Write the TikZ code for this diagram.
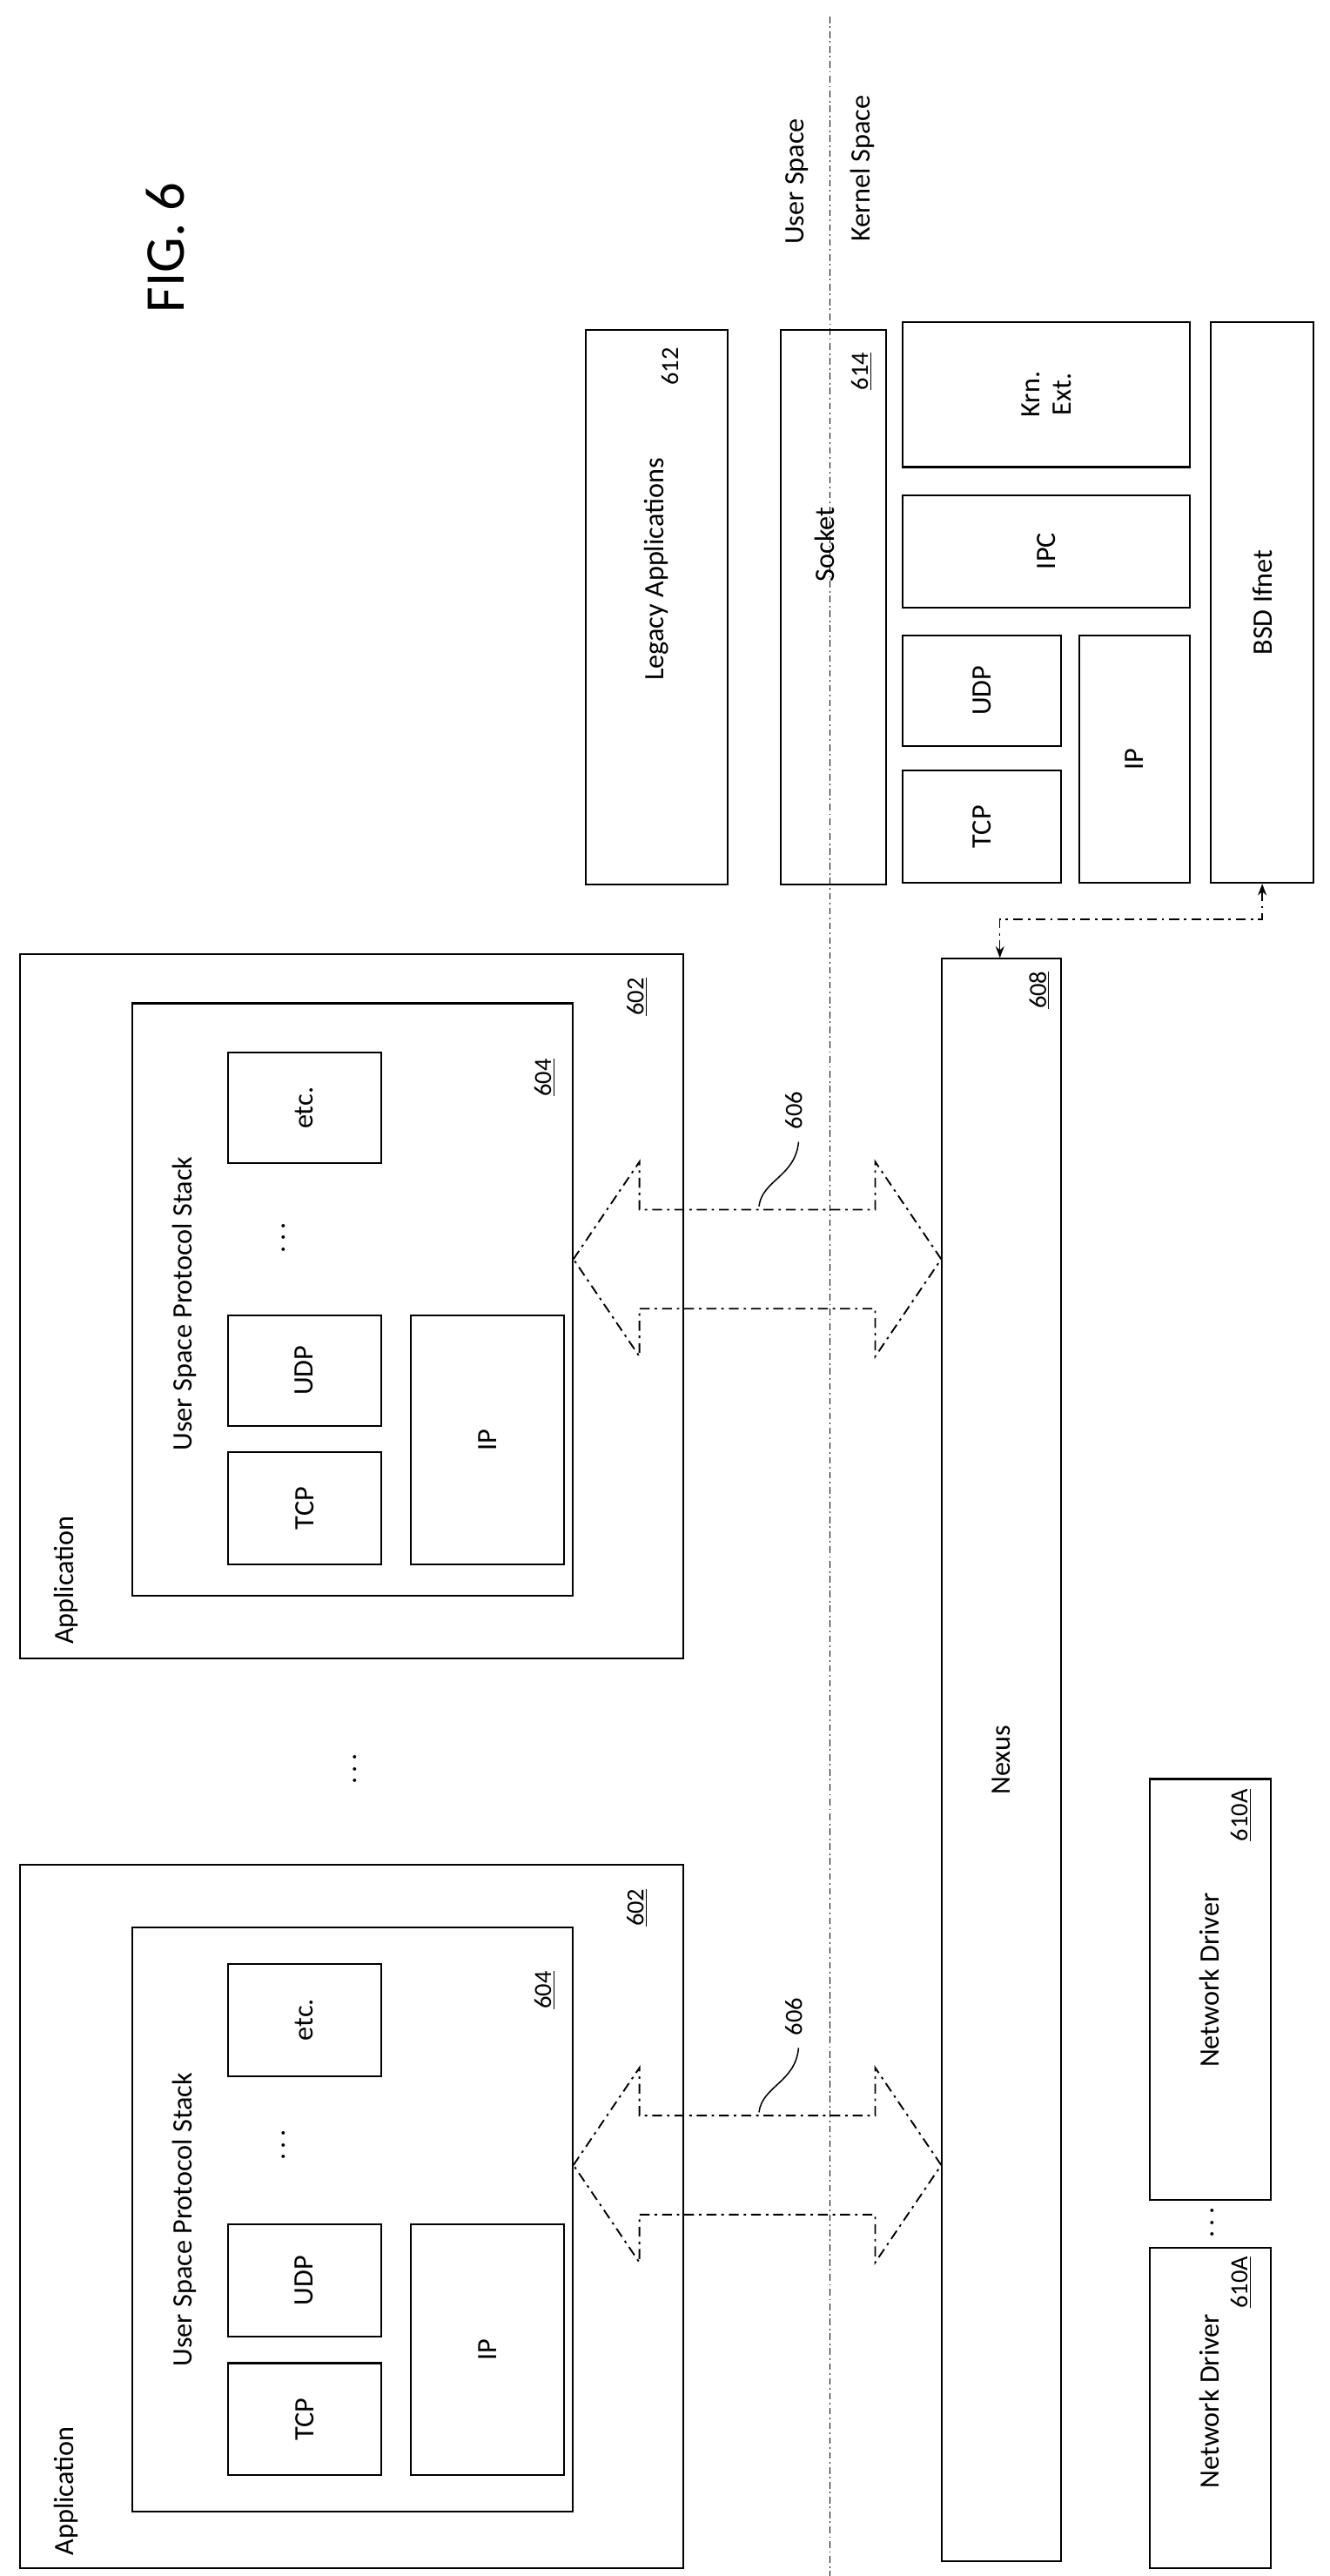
\documentclass[tikz,border=0pt]{standalone}
\usepackage{fontspec}
\setmainfont{Carlito}
\usetikzlibrary{positioning,calc,arrows.meta}

\tikzset{
  box/.style={draw,line width=1.1pt,rectangle,inner sep=0pt},
  lbl/.style={rotate=90,font=\fontsize{17}{19}\selectfont,align=center},
  ref/.style={rotate=90,font=\fontsize{15}{17}\selectfont},
  flow/.style={line width=1pt,dash pattern=on 6pt off 3pt on 1.5pt off 3pt},
}
\newcommand{\boxat}[5]{% name, x1, y1, x2, y2
  \node[box,minimum width={#4-#2},minimum height={#5-#3}] (#1) at ({(#2+#4)/2},{(#3+#5)/2}) {};}
\newcommand{\refnum}[3]{\node[ref] at (#1,#2) {\underline{#3}};}

\begin{document}
\begin{tikzpicture}[x=1pt,y=-1pt]
\useasboundingbox (0,0) rectangle (806,1561);

%FIG label
\node[rotate=90,font=\fontsize{34}{38}\selectfont] (fig) at (100,150) {FIG. 6};

%user / kernel boundary
\draw[line width=0.8pt,dash pattern=on 4pt off 2pt on 1pt off 2pt] (503,10) coordinate (bt) -- (503,1561) coordinate (bb);
\node[lbl] (us) at (483,110) {User Space};
\node[lbl] (ks) at (523,102) {Kernel Space};

%Application (top)
\boxat{appA}{12}{578}{414}{1005}
\node[lbl,anchor=west] at (40,1000) {Application};
\refnum{386}{604}{602}
\boxat{stackA}{80}{608}{347}{967}
\node[lbl] at (112,790) {User Space Protocol Stack};
\refnum{330}{653}{604}
\boxat{tcpA}{138}{880}{231}{948}
\node[lbl] at (tcpA) {TCP};
\boxat{udpA}{138}{797}{231}{864}
\node[lbl] at (udpA) {UDP};
\node[lbl] at (172,750) {.\,.\,.};
\boxat{etcA}{138}{638}{231}{705}
\node[lbl] at (etcA) {etc.};
\boxat{ipA}{249}{797}{342}{948}
\node[lbl] at (ipA) {IP};

%Application (bottom)
\boxat{appB}{12}{1130}{414}{1556}
\node[lbl,anchor=west] at (40,1552) {Application};
\refnum{386}{1156}{602}
\boxat{stackB}{80}{1168}{347}{1522}
\node[lbl] at (112,1345) {User Space Protocol Stack};
\refnum{330}{1206}{604}
\boxat{tcpB}{138}{1432}{231}{1500}
\node[lbl] at (tcpB) {TCP};
\boxat{udpB}{138}{1348}{231}{1416}
\node[lbl] at (udpB) {UDP};
\node[lbl] at (172,1300) {.\,.\,.};
\boxat{etcB}{138}{1190}{231}{1258}
\node[lbl] at (etcB) {etc.};
\boxat{ipB}{249}{1348}{342}{1500}
\node[lbl] at (ipB) {IP};

\node[lbl] at (215,1072) {.\,.\,.};

%Nexus
\boxat{nexus}{571}{581}{643}{1552}
\node[lbl] at (nexus) {Nexus};
\refnum{630}{600}{608}

%channels 606
\foreach \cy/\ly in {763/673, 1312/1222}{
  \draw[flow] ($(stackA.east|-0,\cy)$) -- ++(40,-59) -- ++(0,29) -- ($(nexus.west|-0,\cy)+(-40,-30)$)
    -- ++(0,-29) -- ($(nexus.west|-0,\cy)$) -- ++(-40,59) -- ++(0,-29)
    -- ($(stackA.east|-0,\cy)+(40,30)$) -- ++(0,29) -- cycle;
  \node[ref] (c\cy) at (481,\ly) {606};
  \draw[line width=0.8pt] (c\cy.west) ++(3,4) .. controls (482,\cy-50) and (462,\cy-48) .. (460,\cy-32);
}

%legacy and socket
\boxat{legacy}{355}{200}{441}{536}
\node[lbl] at (398,345) {Legacy Applications};
\node[ref] at (406,222) {612};
\boxat{socket}{473}{200}{537}{536}
\node[lbl] at (500,330) {Socket};
\refnum{522}{225}{614}

%kernel stack
\boxat{ktcp}{547}{467}{643}{535}
\node[lbl] at (ktcp) {TCP};
\boxat{kudp}{547}{385}{643}{452}
\node[lbl] at (kudp) {UDP};
\boxat{kipc}{547}{300}{721}{368}
\node[lbl] at (kipc) {IPC};
\boxat{kext}{547}{195}{721}{283}
\node[lbl] at (kext) {Krn.\\Ext.};
\boxat{kip}{654}{385}{721}{535}
\node[lbl] at (kip) {IP};
\boxat{bsd}{734}{195}{796}{535}
\node[lbl] at (bsd) {BSD Ifnet};

\draw[flow,line width=0.8pt,{Stealth[length=7pt]}-{Stealth[length=7pt]}] (bsd.south-|765,0) -- (765,557) -- (606,557) -- (nexus.north-|606,0);

%network drivers
\boxat{ndA}{697}{1078}{770}{1333}
\node[lbl] at (733,1200) {Network Driver};
\refnum{752}{1100}{610A}
\node[lbl] at (735,1347) {.\,.\,.};
\boxat{ndB}{697}{1362}{770}{1556}
\node[lbl] at (733,1455) {Network Driver};
\refnum{752}{1383}{610A}
\end{tikzpicture}
\end{document}
